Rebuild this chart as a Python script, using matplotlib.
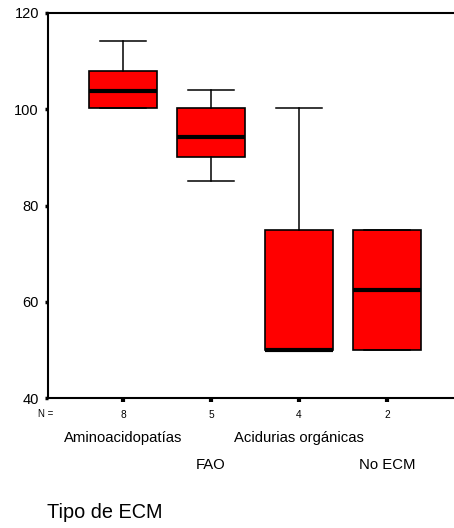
import matplotlib
matplotlib.use("Agg")
import matplotlib.pyplot as plt
import matplotlib.transforms as mtransforms

plt.rcParams['font.family'] = ['Liberation Sans', 'DejaVu Sans']

categories = ["Aminoacidopatías", "FAO", "Acidurias orgánicas", "No ECM"]
counts = [8, 5, 4, 2]
whisker_low = [100.2, 85.0, 50.0, 50.0]
q1 = [100.2, 90.0, 50.0, 50.0]
median = [103.8, 94.3, 50.0, 62.5]
q3 = [108.0, 100.2, 75.0, 75.0]
whisker_high = [114.2, 104.0, 100.2, 75.0]
y_ticks = [40, 60, 80, 100, 120]
x_title = "Tipo de ECM"

fig = plt.figure(figsize=(4.54, 5.28), dpi=100)
ax = fig.add_axes([48/454, 1-398/528, 1-48/454, (398-13)/528])

positions = list(range(1, len(categories)+1))
stats = []
for i in range(len(categories)):
    stats.append(dict(med=median[i], q1=q1[i], q3=q3[i],
                      whislo=whisker_low[i], whishi=whisker_high[i],
                      fliers=[], label=categories[i]))

ax.bxp(stats, positions=positions, widths=0.77, patch_artist=True,
       showfliers=False,
       boxprops=dict(facecolor='#ff0000', edgecolor='black', linewidth=1.2),
       medianprops=dict(color='black', linewidth=3.0, solid_capstyle='butt'),
       whiskerprops=dict(color='black', linewidth=1.1),
       capprops=dict(color='black', linewidth=1.1),
       capwidths=0.53)

ax.set_xlim(0.148, 4.76)
ax.set_ylim(40, 120)
ax.set_yticks(y_ticks)
ax.set_yticklabels([str(v) for v in y_ticks], fontsize=10.5)
ax.set_xticks(positions)
ax.set_xticklabels([str(c) for c in counts], fontsize=7.3)

ax.tick_params(axis='y', direction='out', length=2.5, width=2.5, pad=4)
ax.tick_params(axis='x', direction='out', length=3, width=3, pad=6)

for s in ['left', 'top', 'bottom']:
    ax.spines[s].set_linewidth(1.5)
ax.spines['right'].set_visible(False)

trans = mtransforms.blended_transform_factory(ax.transData, fig.transFigure)
fig.text(46/454, 1-414/528, "N =", fontsize=7, ha='center', va='center')
for i, cat in enumerate(categories):
    ypix = 438 if i % 2 == 0 else 465
    ax.text(positions[i], 1-ypix/528, cat, transform=trans, fontsize=10.7,
            ha='center', va='center')

fig.text(47/454, 1-512/528, x_title, fontsize=14.3, ha='left', va='center')

fig.savefig("out.png", dpi=100)
